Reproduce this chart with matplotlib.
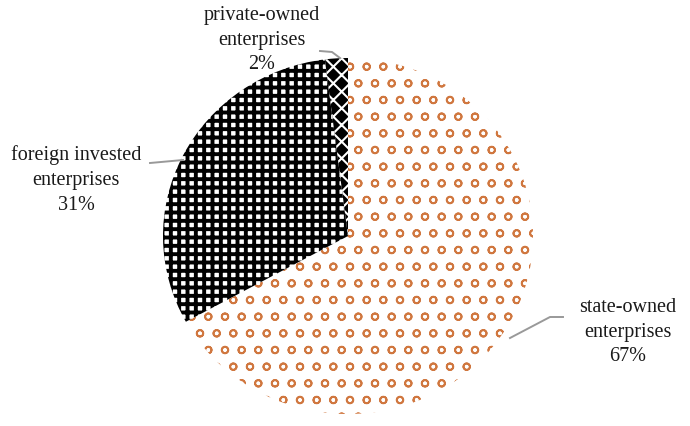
import matplotlib
matplotlib.use("Agg")
import matplotlib.pyplot as plt

plt.rcParams.update({
    "font.family": "Liberation Serif",
    "font.size": 14.5,
})

# data
categories = ["state-owned\nenterprises", "foreign invested\nenterprises", "private-owned\nenterprises"]
shares = [67, 31, 2]

# pie geometry in picture pixels (image is slightly stretched horizontally)
CX, CY, RX, RY = 348, 236, 185, 178
W, H = 690, 426


def px(x, y):
    # picture pixel -> data coords (unit circle pie)
    return (x - CX) / RX, (CY - y) / RY


fig = plt.figure(figsize=(6.9, 4.26), dpi=100)
ax = fig.add_axes([0, 0, 1, 1])

wedges, _ = ax.pie(shares, startangle=90, counterclock=False,
                   radius=1.0, center=(0, 0), frame=True)

styles = [
    # facecolor, hatch colour, hatch, hatch lw
    ("white", "#D0773F", "o", 1.3),
    ("white", "black", "++", 2.8),
    ("black", "white", "xx", 1.5),
]
for w, (fc, hc, hatch, hlw) in zip(wedges, styles):
    w.set_facecolor(fc)
    w.set_edgecolor(hc)
    w.set_hatch(hatch)
    w.set_linewidth(0)
    if hasattr(w, "set_hatch_linewidth"):
        w.set_hatch_linewidth(hlw)

ax.set_xlim(px(0, 0)[0], px(W, 0)[0])
ax.set_ylim(px(0, H)[1], px(0, 0)[1])
ax.set_aspect("auto")
ax.axis("off")

# labels
labels = [f"{c}\n{s}%" for c, s in zip(categories, shares)]
label_pos = [(628, 332), (76, 180), (262, 40)]
for txt, (x, y) in zip(labels, label_pos):
    ax.text(*px(x, y), txt, ha="center", va="center", linespacing=1.4,
            color="#1a1a1a")

# leader lines
leaders = [
    [(510, 338), (550, 317), (563, 317)],
    [(150, 163), (183, 160)],
    [(320, 51), (332, 52), (340, 58)],
]
for pts in leaders:
    xs, ys = zip(*[px(x, y) for x, y in pts])
    ax.plot(xs, ys, color="#999999", lw=1.4)

fig.savefig("out.png", dpi=100)
